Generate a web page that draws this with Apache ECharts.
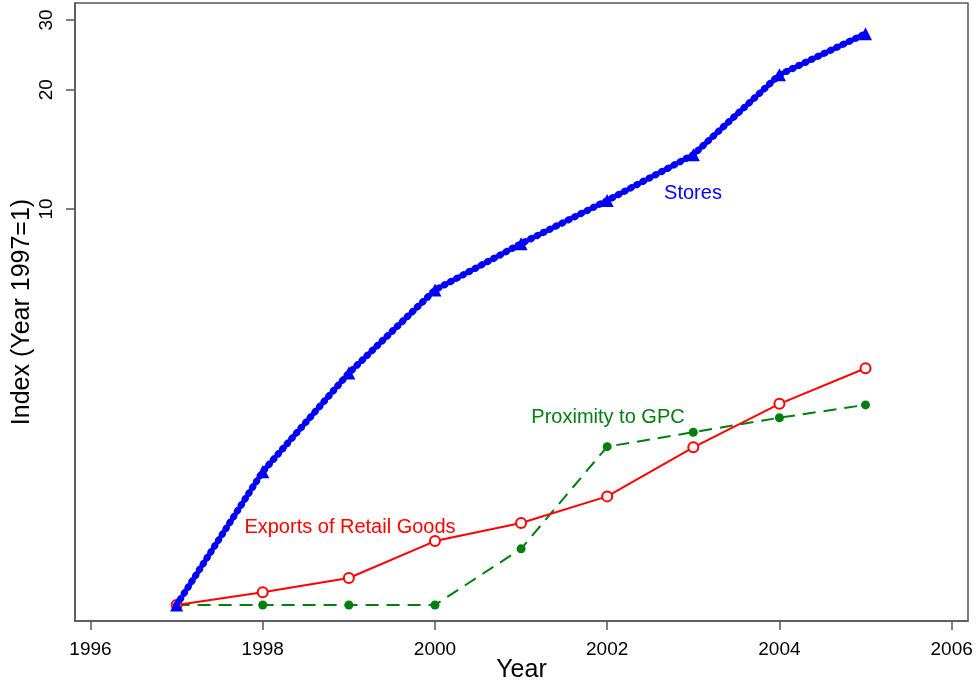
<!DOCTYPE html>
<html>
<head>
<meta charset="utf-8">
<script src="https://cdn.jsdelivr.net/npm/echarts@6/dist/echarts.min.js"></script>
<style>
  html, body { margin: 0; padding: 0; background: #fff; }
  #main { width: 977px; height: 687px; }
</style>
</head>
<body>
<div id="main"></div>
<script>
// values (index, year 1997 = 1)
const years = [1997, 1998, 1999, 2000, 2001, 2002, 2003, 2004, 2005]
const stores = [1, 2.17, 3.85, 6.24, 8.17, 10.5, 13.7, 21.8, 27.7]
const exportsRetail = [1, 1.077, 1.17, 1.45, 1.61, 1.88, 2.5, 3.22, 3.96]
const proximity = [1, 1, 1, 1, 1.386, 2.51, 2.73, 2.97, 3.2]
const xTicks = [1996, 1998, 2000, 2002, 2004, 2006]
const yTicks = [10, 20, 30]

const FONT = 'Liberation Sans, Arial, sans-serif'
const BLUE = '#0000ff'
const RED = '#ff0000'
const GREEN = '#007f0e'
const AXIS = '#555555'

function pairs (vals) {
  return years.map((y, i) => [y, vals[i]])
}

const chart = echarts.init(document.getElementById('main'), null, {renderer: 'canvas'})

const option = {
  animation: false,
  backgroundColor: '#fff',
  grid: {left: 75, right: 9, top: 3, bottom: 66, outerBoundsMode: 'none', containLabel: false,
    show: true, borderColor: AXIS, borderWidth: 1.5},
  xAxis: {
    type: 'value',
    min: 1995.82,
    max: 2006.19,
    name: 'Year',
    nameLocation: 'middle',
    nameGap: 37,
    nameMoveOverlap: false,
    nameTextStyle: {fontFamily: FONT, fontSize: 25, color: '#000'},
    axisLine: {show: true, onZero: false, lineStyle: {color: AXIS, width: 1.5}},
    axisTick: {show: true, length: 9, customValues: xTicks, lineStyle: {color: AXIS, width: 1.5}},
    axisLabel: {customValues: xTicks, margin: 19, fontFamily: FONT, fontSize: 19, color: '#000',
      formatter: v => String(v)},
    splitLine: {show: false}
  },
  yAxis: {
    type: 'log',
    logBase: 10,
    min: 0.911,
    max: 33.1,
    name: 'Index (Year 1997=1)',
    nameLocation: 'middle',
    nameGap: 40,
    nameMoveOverlap: false,
    nameTextStyle: {fontFamily: FONT, fontSize: 25, color: '#000'},
    axisLine: {show: true, lineStyle: {color: AXIS, width: 1.5}},
    axisTick: {show: true, length: 9, customValues: yTicks, lineStyle: {color: AXIS, width: 1.5}},
    axisLabel: {customValues: yTicks, rotate: 90, margin: 19, fontFamily: FONT, fontSize: 19, color: '#000',
      formatter: v => String(Math.round(v))},
    splitLine: {show: false},
    minorTick: {show: false}
  },
  series: [
    {
      name: 'Proximity to GPC',
      type: 'line',
      data: pairs(proximity),
      symbol: 'circle',
      symbolSize: 9,
      itemStyle: {color: GREEN},
      lineStyle: {color: GREEN, width: 2, type: [13, 8]},
      z: 2
    },
    {
      name: 'Exports of Retail Goods',
      type: 'line',
      data: pairs(exportsRetail),
      symbol: 'emptyCircle',
      symbolSize: 10,
      itemStyle: {color: RED, borderColor: RED, borderWidth: 1.6},
      lineStyle: {color: RED, width: 2},
      z: 3
    },
    {
      name: 'Stores',
      type: 'line',
      data: pairs(stores),
      symbol: 'triangle',
      symbolSize: 13,
      itemStyle: {color: BLUE},
      lineStyle: {color: BLUE, width: 4.5},
      z: 4
    },
    {
      name: 'Stores beads',
      type: 'line',
      data: pairs(stores),
      symbol: 'none',
      lineStyle: {color: BLUE, width: 7, type: [0.5, 6.5], cap: 'round'},
      z: 4
    }
  ],
  graphic: [
    {type: 'text', x: 693, y: 193, style: {text: 'Stores', fill: BLUE, font: '20px ' + FONT, align: 'center', verticalAlign: 'middle'}},
    {type: 'text', x: 350, y: 527, style: {text: 'Exports of Retail Goods', fill: RED, font: '20px ' + FONT, align: 'center', verticalAlign: 'middle'}},
    {type: 'text', x: 608, y: 417, style: {text: 'Proximity to GPC', fill: GREEN, font: '20px ' + FONT, align: 'center', verticalAlign: 'middle'}}
  ]
}

chart.setOption(option)
</script>
</body>
</html>
